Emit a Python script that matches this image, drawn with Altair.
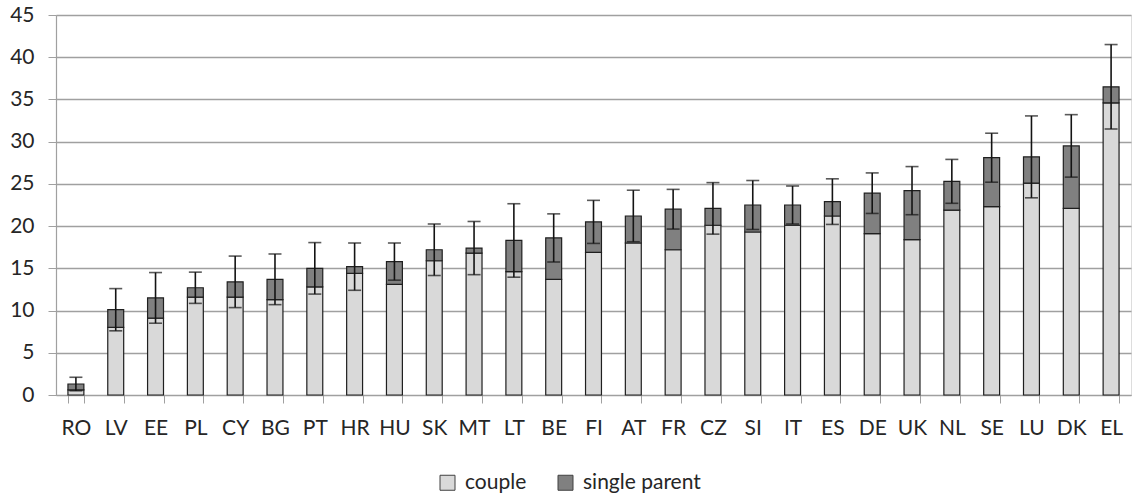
import altair as alt
import pandas as pd

# Country codes, ordered by total share
countries = ["RO", "LV", "EE", "PL", "CY", "BG", "PT", "HR", "HU", "SK", "MT", "LT", "BE", "FI",
             "AT", "FR", "CZ", "SI", "IT", "ES", "DE", "UK", "NL", "SE", "LU", "DK", "EL"]

# Stacked components (%)
couple = [0.6, 8.0, 9.1, 11.6, 11.6, 11.3, 12.8, 14.4, 13.1, 15.9, 16.8, 14.6, 13.7, 16.9,
          18.0, 17.2, 20.1, 19.3, 20.1, 21.2, 19.1, 18.4, 21.9, 22.3, 25.1, 22.1, 34.6]
single_parent = [0.7, 2.1, 2.4, 1.1, 1.8, 2.4, 2.2, 0.8, 2.7, 1.3, 0.6, 3.7, 4.9, 3.6,
                 3.2, 4.8, 2.0, 3.2, 2.4, 1.7, 4.8, 5.8, 3.4, 5.8, 3.1, 7.4, 1.9]

# Half-width of the confidence interval around the total
margin = [0.8, 2.5, 3.0, 1.85, 3.05, 3.0, 3.05, 2.8, 2.2, 3.05, 3.15, 4.35, 2.85, 2.55,
          3.05, 2.35, 3.05, 2.9, 2.25, 2.7, 2.4, 2.85, 2.6, 2.9, 4.85, 3.7, 5.0]

series = ["couple", "single parent"]

rows = []
for c, a, b in zip(countries, couple, single_parent):
    rows.append({"country": c, "group": "couple", "value": a, "ord": 0})
    rows.append({"country": c, "group": "single parent", "value": b, "ord": 1})
bars_df = pd.DataFrame(rows)

err_df = pd.DataFrame({
    "country": countries,
    "total": [a + b for a, b in zip(couple, single_parent)],
    "margin": margin,
})

FONT = "Lato"
TEXT = "#262626"
GRID = "#a0a0a0"

x_enc = alt.X(
    "country:N",
    sort=countries,
    title=None,
    scale=alt.Scale(paddingInner=0.6, paddingOuter=0.3),
    axis=alt.Axis(
        labelAngle=0,
        tickBand="extent",
        tickSize=8,
        tickColor=GRID,
        domainColor=GRID,
        domainWidth=1.2,
        labelPadding=14,
        labelFontSize=21,
        labelFont=FONT,
        labelColor=TEXT,
        grid=False,
    ),
)

bars = alt.Chart(bars_df).mark_bar(stroke="#1f1f1f", strokeWidth=1.2).encode(
    x=x_enc,
    y=alt.Y(
        "value:Q",
        stack="zero",
        title=None,
        scale=alt.Scale(domain=[0, 45], nice=False),
        axis=alt.Axis(
            values=list(range(0, 46, 5)),
            tickSize=8,
            tickColor=GRID,
            domainColor=GRID,
            domainWidth=1.2,
            gridColor=GRID,
            gridWidth=1.3,
            labelPadding=14,
            labelFontSize=21,
            labelFont=FONT,
            labelColor=TEXT,
        ),
    ),
    color=alt.Color(
        "group:N",
        scale=alt.Scale(domain=series, range=["#d9d9d9", "#808080"]),
        legend=alt.Legend(
            title=None,
            orient="none",
            direction="horizontal",
            legendX=381,
            legendY=457,
            symbolType="square",
            symbolSize=225,
            symbolStrokeColor="#404040",
            symbolStrokeWidth=1,
            symbolOpacity=1,
            labelFontSize=21,
            labelFont=FONT,
            labelColor=TEXT,
            labelOffset=7,
            columnPadding=28,
            padding=0,
        ),
    ),
    order=alt.Order("ord:Q", sort="ascending"),
)

base_err = alt.Chart(err_df).transform_calculate(
    lo="datum.total - datum.margin",
    hi="datum.total + datum.margin",
)

rules = base_err.mark_rule(color="#141414", strokeWidth=1.6).encode(
    x=alt.X("country:N", sort=countries),
    y="lo:Q",
    y2="hi:Q",
)

caps_hi = base_err.mark_tick(color="#141414", thickness=1.6, size=13, orient="horizontal").encode(
    x=alt.X("country:N", sort=countries),
    y="hi:Q",
)
caps_lo = base_err.mark_tick(color="#141414", thickness=1.6, size=13, orient="horizontal").encode(
    x=alt.X("country:N", sort=countries),
    y="lo:Q",
)

chart = alt.layer(bars, rules, caps_hi, caps_lo).properties(
    width=1075,
    height=380,
    autosize=alt.AutoSizeParams(type="none"),
    padding={"left": 56, "top": 15, "right": 3, "bottom": 101},
).configure_view(stroke=None).configure(background="white")

chart.save("out.html", embed_options={"renderer": "svg", "actions": False})
